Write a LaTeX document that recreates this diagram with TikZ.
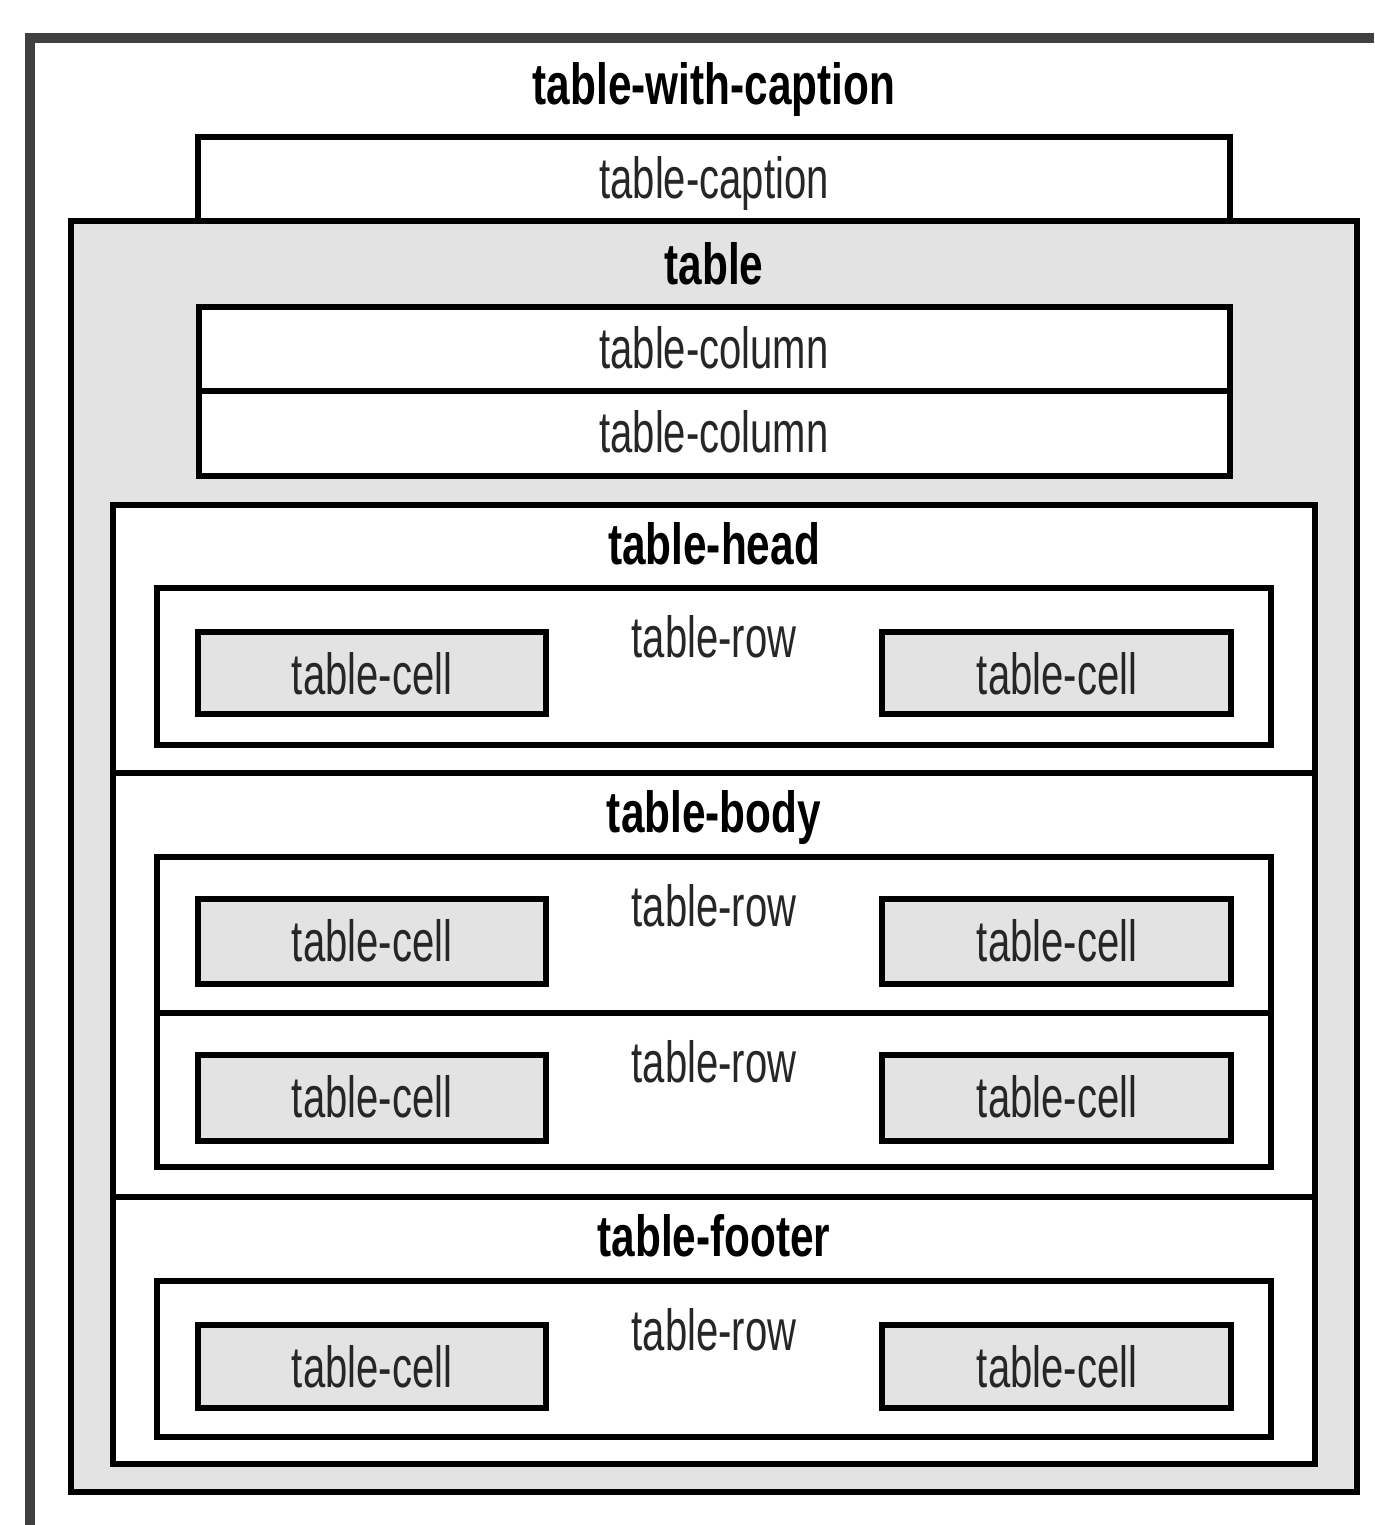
\documentclass[tikz,border=0pt]{standalone}
\usepackage{fontspec}
\setmainfont{Liberation Sans}[FakeStretch=0.69, BoldFeatures={FakeStretch=0.73}]
\definecolor{panel}{HTML}{E3E3E3}
\definecolor{frame}{HTML}{404040}
\definecolor{ink}{HTML}{262626}
\begin{document}
\begin{tikzpicture}[x=1pt,y=-1pt,
  boxline/.style={draw=black, line width=6.5pt, line join=miter},
  whitebox/.style={boxline, fill=white},
  graybox/.style={boxline, fill=panel},
  title/.style={anchor=base, inner sep=0pt, font=\fontsize{58}{66}\selectfont\bfseries, text=black},
  lbl/.style={anchor=base, inner sep=0pt, font=\fontsize{58}{66}\selectfont, text=ink}]
\useasboundingbox (0,0) rectangle (1374,1525);

% outer frame, open to the right and below
\draw[frame, line width=10pt, line join=miter] (29.5,1525) -- (29.5,38) -- (1374,38);
\node[title] (twc) at (714,105) {table-with-caption};

% table and its caption
\draw[graybox] (71,221) rectangle (1357,1492);
\draw[whitebox] (198,137) rectangle (1230,221);
\node[lbl] (cap) at (714,198) {table-caption};
\node[title] (tbl) at (714,284) {table};

% column boxes
\draw[whitebox] (199,307) rectangle (1230,391);
\draw[whitebox] (199,391) rectangle (1230,476);
\node[lbl] (col1) at (714,368) {table-column};
\node[lbl] (col2) at (714,452) {table-column};

% row groups
\draw[whitebox] (113,505) rectangle (1315,773);
\draw[whitebox] (113,773) rectangle (1315,1197);
\draw[whitebox] (113,1197) rectangle (1315,1464);
\node[title] (head) at (714,564) {table-head};
\node[title] (body) at (714,832) {table-body};
\node[title] (foot) at (714,1256) {table-footer};

% rows
\draw[whitebox] (157,588) rectangle (1271,745);
\draw[whitebox] (157,857) rectangle (1271,1013);
\draw[whitebox] (157,1013) rectangle (1271,1167);
\draw[whitebox] (157,1281) rectangle (1271,1437);
\node[lbl] (rowh) at (714,657) {table-row};
\node[lbl] (rowb1) at (714,926) {table-row};
\node[lbl] (rowb2) at (714,1082) {table-row};
\node[lbl] (rowf) at (714,1350) {table-row};

% cells
\draw[graybox] (198,632) rectangle (546,714);
\draw[graybox] (882,632) rectangle (1231,714);
\draw[graybox] (198,899) rectangle (546,984);
\draw[graybox] (882,899) rectangle (1231,984);
\draw[graybox] (198,1055) rectangle (546,1141);
\draw[graybox] (882,1055) rectangle (1231,1141);
\draw[graybox] (198,1325) rectangle (546,1408);
\draw[graybox] (882,1325) rectangle (1231,1408);
\node[lbl] (ch1) at (372,694) {table-cell};
\node[lbl] (ch2) at (1057,694) {table-cell};
\node[lbl] (cb1) at (372,961) {table-cell};
\node[lbl] (cb2) at (1057,961) {table-cell};
\node[lbl] (cb3) at (372,1117) {table-cell};
\node[lbl] (cb4) at (1057,1117) {table-cell};
\node[lbl] (cf1) at (372,1387) {table-cell};
\node[lbl] (cf2) at (1057,1387) {table-cell};
\end{tikzpicture}
\end{document}
